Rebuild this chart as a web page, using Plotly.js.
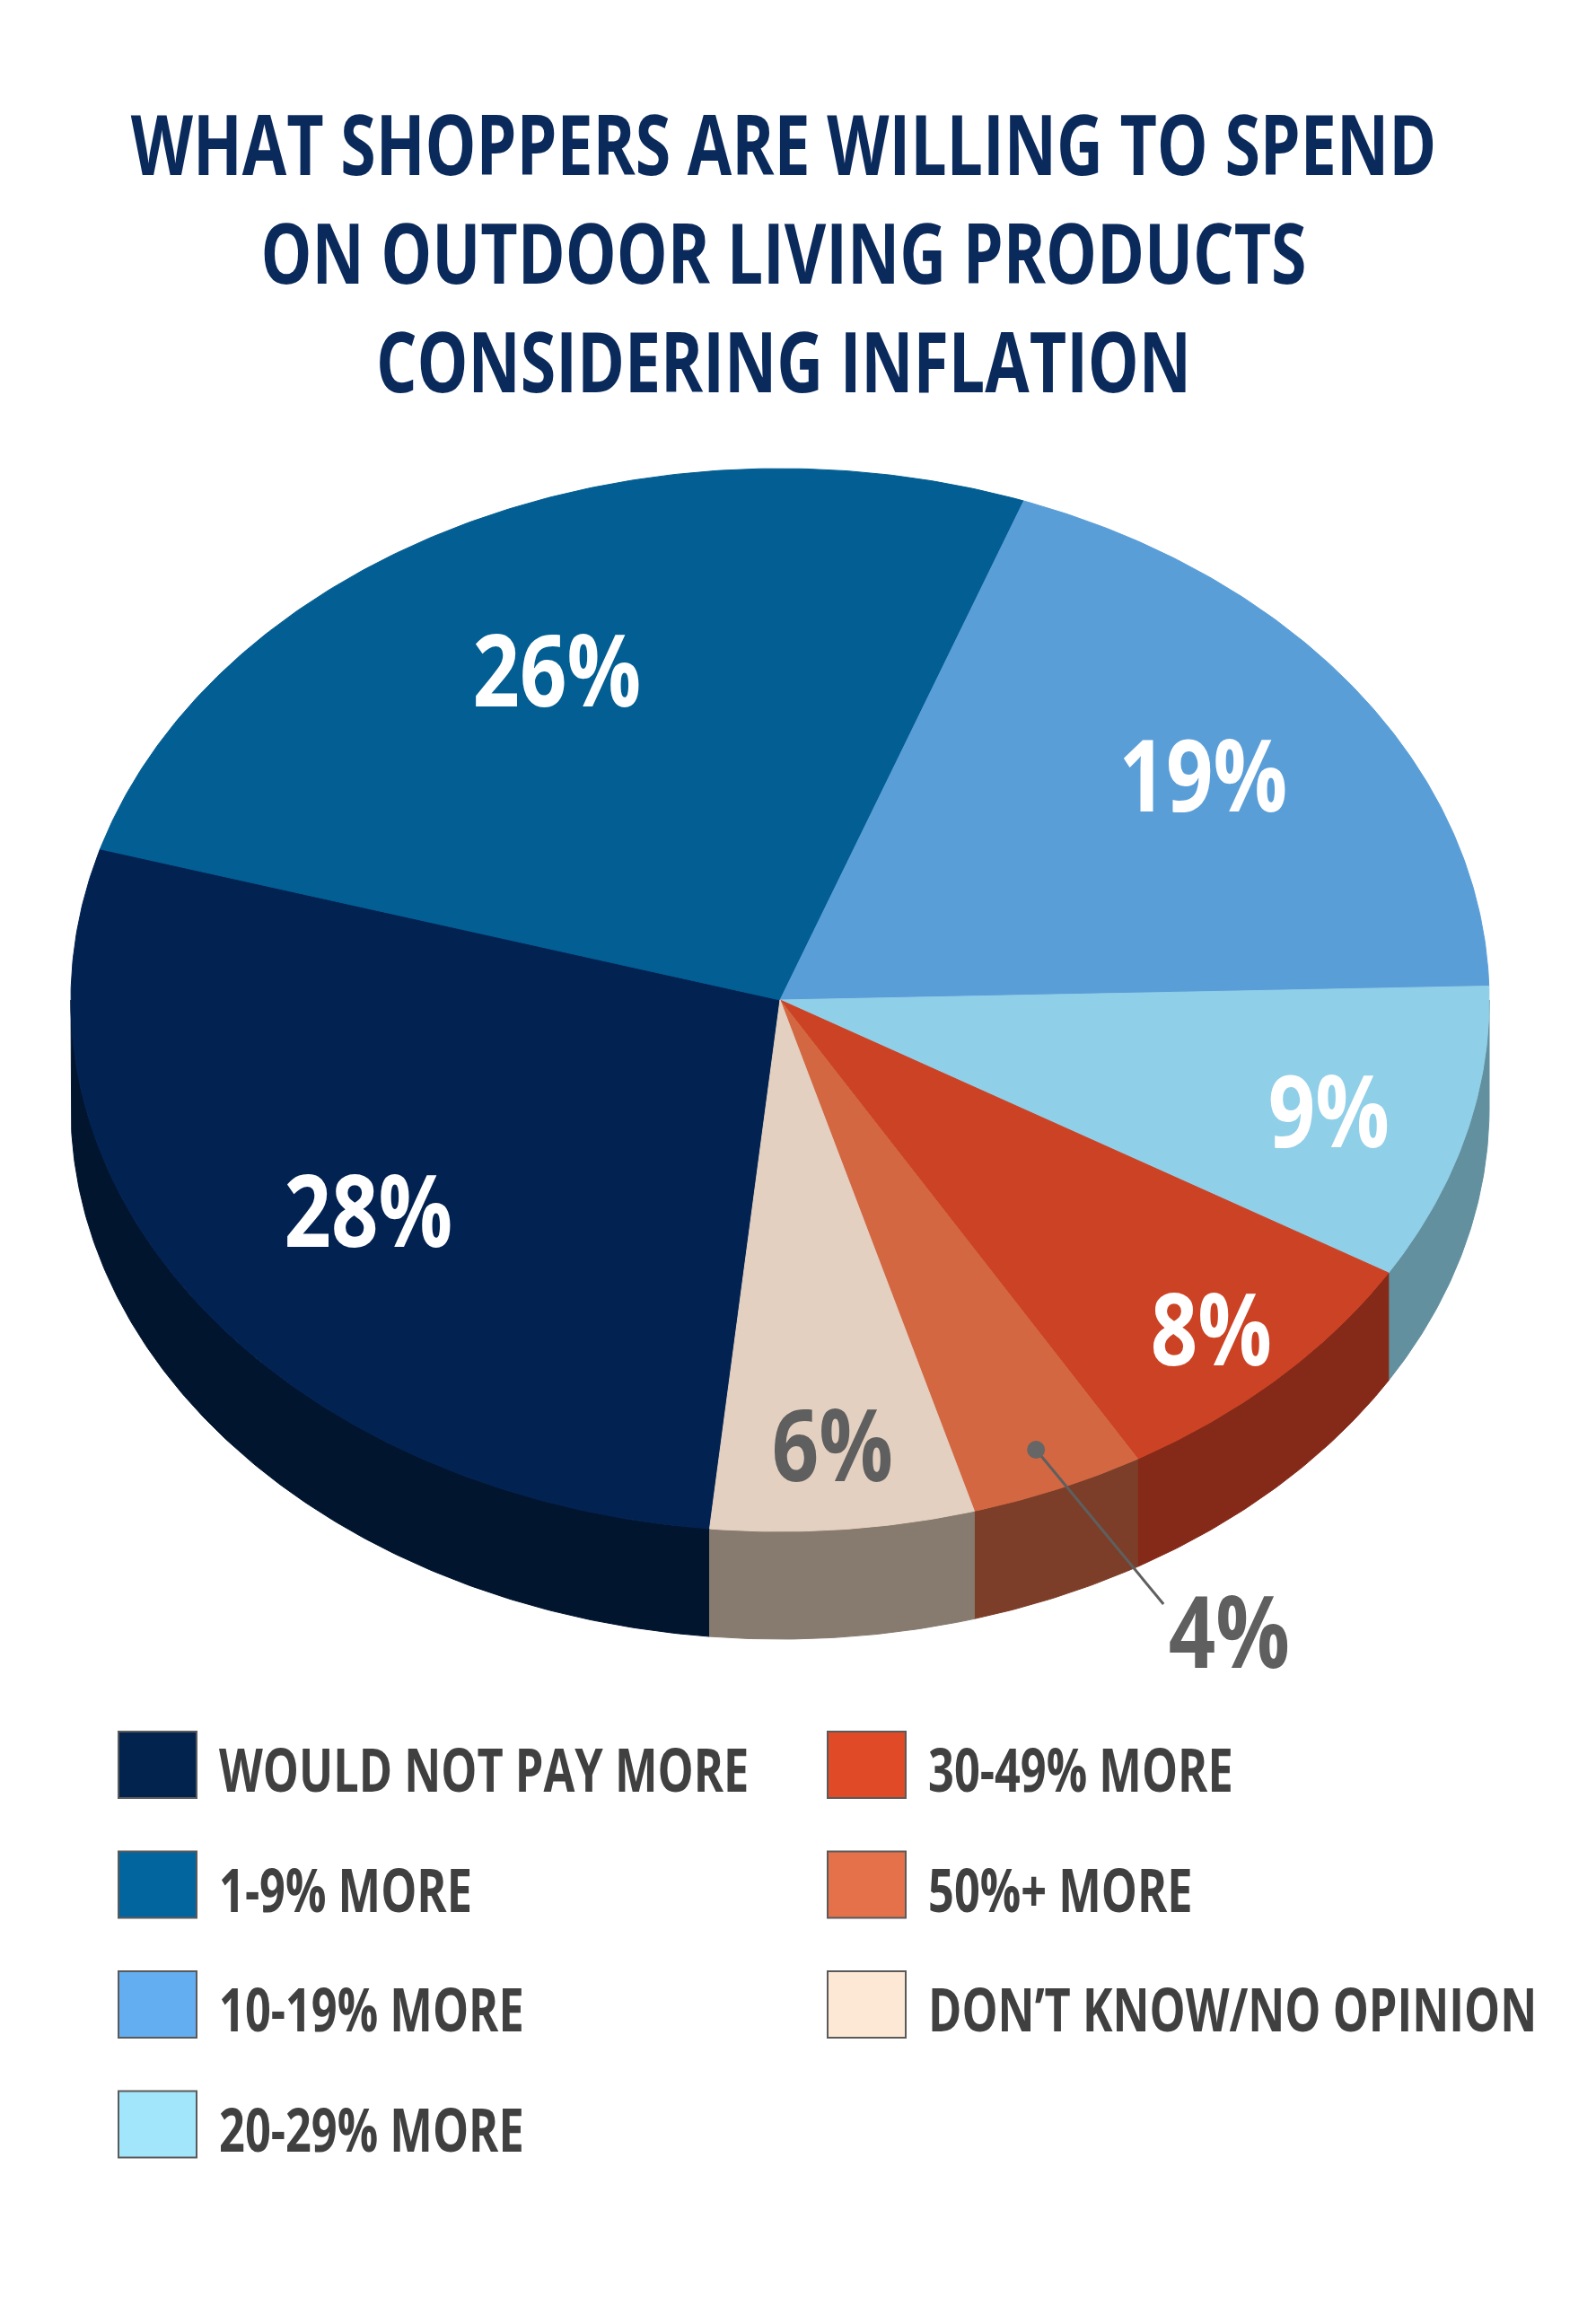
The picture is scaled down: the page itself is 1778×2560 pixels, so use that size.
<!DOCTYPE html>
<html lang="en">
<head>
    <meta charset="UTF-8">
    <title>What Shoppers Are Willing To Spend</title>
    <script src="https://cdn.plot.ly/plotly-3.0.1.min.js"></script>
    <style>
        * { margin: 0; padding: 0; box-sizing: border-box; }
        body { background: #ffffff; width: 1778px; height: 2560px; overflow: hidden; }
        #plot { width: 1778px; height: 2560px; }
    </style>
</head>
<body>
    <div id="plot"></div>

    <script>
        // data
        const categories = [
            'WOULD NOT PAY MORE',
            '1-9% MORE',
            '10-19% MORE',
            '20-29% MORE',
            '30-49% MORE',
            '50%+ MORE',
            'DON\u2019T KNOW/NO OPINION'
        ];
        const shares = [28, 26, 19, 9, 8, 4, 6];

        // styling
        const topColors = ['#022252', '#025e93', '#5a9ed8', '#90cfe8', '#cc4224', '#d36742', '#e3d0c1'];
        const sideColors = ['#01152f', '#014670', '#3f76a6', '#62909f', '#852a18', '#7c3e28', '#877a6e'];
        const legendColors = ['#03234f', '#02659e', '#62aef0', '#a2e6fb', '#e04a26', '#e5714a', '#fde8d6'];
        const labelColors = ['#ffffff', '#ffffff', '#ffffff', '#ffffff', '#ffffff', '#5f5f5f', '#5f5f5f'];
        const labelRadius = [0.70, 0.70, 0.735, 0.80, 0.865, 0.92, 0.835];
        const outsideLabel = [false, false, false, false, false, true, false];

        const FONT = "'Open Sans', 'Noto Sans', sans-serif";

        // the source uses a condensed face; squeeze text horizontally by these factors
        const SQUEEZE_TITLE = 0.77;
        const SQUEEZE_LABEL = 0.82;
        const SQUEEZE_LEGEND = 0.765;

        // pie geometry (pixel space of the page)
        const CX = 869, CY = 1114, RX = 790, RY = 592, DEPTH = 120;
        const START = -95.7; // degrees, slices run clockwise
        const RAD = Math.PI / 180;

        function pt(deg, r, dy) {
            return [CX + r * RX * Math.cos(deg * RAD), CY - r * RY * Math.sin(deg * RAD) + (dy || 0)];
        }

        function arc(from, to, r, dy) {
            const n = Math.max(2, Math.ceil(Math.abs(to - from) / 0.5));
            const out = [];
            for (let k = 0; k <= n; k++) out.push(pt(from + (to - from) * k / n, r, dy));
            return out;
        }

        const total = shares.reduce((a, b) => a + b, 0);
        const slices = [];
        let acc = 0;
        shares.forEach((v, i) => {
            const a0 = START - acc / total * 360;
            const a1 = a0 - v / total * 360;
            slices.push({ a0, a1, mid: (a0 + a1) / 2 });
            acc += v;
        });

        const traces = [];

        // side walls, front half only
        slices.forEach((s, i) => {
            for (let k = -2; k <= 1; k++) {
                const lo = Math.max(s.a1, -180 + 360 * k);
                const hi = Math.min(s.a0, 360 * k);
                if (lo < hi) {
                    const top = arc(hi, lo, 1, 0);
                    const bottom = arc(lo, hi, 1, DEPTH);
                    const poly = top.concat(bottom);
                    poly.push(top[0]);
                    traces.push({
                        x: poly.map(p => p[0]),
                        y: poly.map(p => p[1]),
                        type: 'scatter',
                        mode: 'lines',
                        fill: 'toself',
                        fillcolor: sideColors[i],
                        line: { color: sideColors[i], width: 1 },
                        hoverinfo: 'skip',
                        showlegend: false
                    });
                }
            }
        });

        // top faces
        slices.forEach((s, i) => {
            const poly = [[CX, CY]].concat(arc(s.a0, s.a1, 1, 0));
            poly.push([CX, CY]);
            traces.push({
                x: poly.map(p => p[0]),
                y: poly.map(p => p[1]),
                type: 'scatter',
                mode: 'lines',
                fill: 'toself',
                fillcolor: topColors[i],
                line: { color: topColors[i], width: 1 },
                name: categories[i],
                hoverinfo: 'name',
                showlegend: false
            });
        });

        const annotations = [];

        // percentage labels
        slices.forEach((s, i) => {
            const p = pt(s.mid, labelRadius[i], 0);
            let x = p[0], y = p[1];
            if (outsideLabel[i]) {
                const end = [p[0] + 142, p[1] + 172];
                traces.push({
                    x: [p[0], end[0]],
                    y: [p[1], end[1]],
                    type: 'scatter',
                    mode: 'lines',
                    line: { color: '#5f5f5f', width: 3 },
                    hoverinfo: 'skip',
                    showlegend: false
                });
                traces.push({
                    x: [p[0]],
                    y: [p[1]],
                    type: 'scatter',
                    mode: 'markers',
                    marker: { color: '#666666', size: 20 },
                    hoverinfo: 'skip',
                    showlegend: false
                });
                x = p[0] + 215;
                y = p[1] + 200;
            }
            annotations.push({
                x: x, y: y, xref: 'x', yref: 'y',
                text: shares[i] + '%',
                showarrow: false,
                xanchor: 'center', yanchor: 'middle',
                font: { family: FONT, size: 112, color: outsideLabel[i] ? '#5f5f5f' : labelColors[i], weight: 'bold' }
            });
        });

        // legend, two columns
        const shapes = [];
        const colX = [132, 922];
        categories.forEach((c, i) => {
            const col = i < 4 ? 0 : 1;
            const row = i < 4 ? i : i - 4;
            const yc = 1966 + row * 133.5;
            shapes.push({
                type: 'rect', xref: 'x', yref: 'y',
                x0: colX[col], x1: colX[col] + 87,
                y0: yc - 37, y1: yc + 37,
                fillcolor: legendColors[i],
                line: { color: '#5a5a5a', width: 2 }
            });
            annotations.push({
                x: colX[col] + 110, y: yc + 4, xref: 'x', yref: 'y',
                text: c,
                showarrow: false,
                xanchor: 'left', yanchor: 'middle',
                font: { family: FONT, size: 66, color: '#404040', weight: 'bold' }
            });
        });

        const layout = {
            width: 1778,
            height: 2560,
            margin: { l: 0, r: 0, t: 0, b: 0 },
            paper_bgcolor: '#ffffff',
            plot_bgcolor: '#ffffff',
            title: {
                text: 'WHAT SHOPPERS ARE WILLING TO SPEND<br>ON OUTDOOR LIVING PRODUCTS<br>CONSIDERING INFLATION',
                x: 873 / 1778,
                xanchor: 'center',
                y: 1 - 195 / 2560,
                yanchor: 'middle',
                font: { family: FONT, size: 93, color: '#0b2a5c', weight: 'bold' }
            },
            xaxis: { range: [0, 1778], visible: false, fixedrange: true },
            yaxis: { range: [2560, 0], visible: false, fixedrange: true },
            showlegend: false,
            shapes: shapes,
            annotations: annotations,
            hovermode: 'closest'
        };

        function squeeze(el, k, fromLeft) {
            const b = el.getBBox();
            const cx = fromLeft ? b.x : b.x + b.width / 2;
            const prev = el.getAttribute('transform') || '';
            el.setAttribute('transform', prev + ' translate(' + cx + ',0) scale(' + k + ',1) translate(' + (-cx) + ',0)');
        }

        Plotly.newPlot('plot', traces, layout, { displayModeBar: false, staticPlot: true }).then(gd => {
            gd.querySelectorAll('.annotation').forEach(g => {
                const idx = +g.getAttribute('data-index');
                const t = g.querySelector('text');
                if (!t) return;
                if (idx < shares.length) squeeze(t, SQUEEZE_LABEL, false);
                else squeeze(t, SQUEEZE_LEGEND, true);
            });
            const title = gd.querySelector('.gtitle');
            if (title) squeeze(title, SQUEEZE_TITLE, false);
        });
    </script>
</body>
</html>
